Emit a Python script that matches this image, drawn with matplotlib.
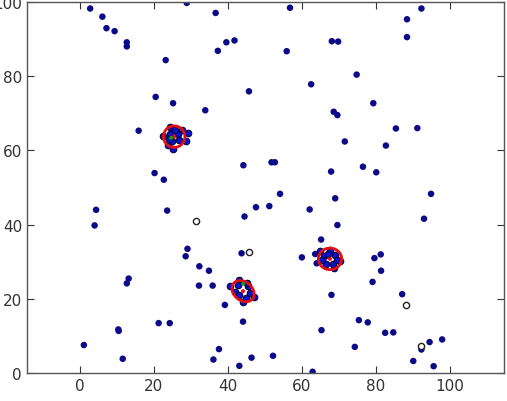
import numpy as np
import matplotlib
matplotlib.use("Agg")
import matplotlib.pyplot as plt
from matplotlib.patches import Ellipse

# ── Scattered background points ───────────────────────────
pts_x = [2.8, 6.1, 7.2, 9.4, 12.7, 12.7, 28.9, 36.7, 56.8, 92.3, 88.4, 88.4,
         39.6, 41.8, 37.3, 23.2, 55.9, 68.1, 69.8, 74.8, 62.5, 45.7, 20.5, 25.2,
         33.9, 79.3, 68.6, 69.6, 15.9, 85.4, 91.2, 71.6, 82.7, 44.2, 51.8, 52.7,
         76.5, 20.2, 67.9, 80.1, 22.7, 54.1, 94.9, 69.0, 47.6, 51.2, 4.4, 23.6,
         62.1, 44.5, 93.0, 4.0, 69.6, 65.2, 29.1, 43.7, 28.6, 60.0, 63.6, 64.0,
         79.6, 81.3, 32.3, 34.9, 81.4, 13.2, 12.7, 32.2, 35.9, 79.1, 87.1, 68.0,
         39.2, 21.3, 24.3, 44.1, 75.4, 77.8, 10.4, 10.5, 65.3, 82.5, 84.7, 1.1,
         74.3, 94.5, 97.9, 92.3, 37.6, 11.6, 36.1, 46.4, 52.2, 90.1, 43.1, 95.6,
         62.9]
pts_y = [98.2, 96.0, 92.9, 92.1, 89.1, 88.0, 99.7, 97.0, 98.4, 98.2, 95.3, 90.5,
         89.1, 89.6, 86.8, 84.3, 86.7, 89.4, 89.3, 80.4, 77.8, 75.9, 74.4, 72.7,
         70.8, 72.7, 70.4, 69.5, 65.3, 65.9, 66.0, 62.4, 61.3, 56.0, 56.8, 56.8,
         55.6, 53.9, 54.3, 54.1, 52.1, 48.3, 48.3, 47.1, 44.7, 45.0, 44.0, 43.8,
         44.1, 42.2, 41.6, 39.8, 39.9, 36.0, 33.5, 32.3, 31.5, 31.2, 32.1, 29.6,
         31.0, 32.0, 28.8, 27.6, 27.6, 25.5, 24.2, 23.6, 23.6, 24.6, 21.3, 21.1,
         18.4, 13.5, 13.5, 13.9, 14.3, 13.7, 11.8, 11.4, 11.6, 10.9, 11.0, 7.6,
         7.1, 8.4, 9.1, 6.4, 6.5, 3.9, 3.7, 4.2, 4.7, 3.3, 2.0, 1.9,
         0.4]

# ── Cluster members ───────────────────────────────────────
c1_x = [22.4, 24.5, 27.7, 29.1, 28.8, 25.3, 23.9, 24.5, 26.5, 25.0, 26.8, 25.8, 24.0]
c1_y = [63.9, 66.4, 65.5, 64.8, 62.6, 60.4, 61.4, 64.5, 64.5, 62.5, 62.8, 65.5, 63.0]
c2_x = [40.5, 43.1, 47.0, 44.1, 42.0, 45.5, 46.0, 43.0, 44.8, 42.8, 45.2]
c2_y = [23.4, 25.2, 20.5, 19.1, 22.0, 23.5, 21.5, 21.0, 20.2, 23.8, 24.2]
c3_x = [65.0, 67.6, 68.8, 70.3, 66.0, 69.0, 66.5, 68.5, 67.0, 69.5, 65.5]
c3_y = [32.9, 33.3, 28.3, 30.1, 31.5, 31.8, 29.5, 29.5, 32.0, 30.5, 30.5]

# cluster centres (red) and green markers
cent_x = [25.5, 44.1, 67.6]
cent_y = [63.7, 22.1, 30.8]
green_x = [24.7, 44.1]
green_y = [63.4, 24.1]

# hollow (unassigned) points
hol_x = [31.5, 45.6, 88.2, 92.2]
hol_y = [41.1, 32.6, 18.3, 7.4]

NAVY = "#0b0b8a"

fig = plt.figure(figsize=(5.07, 4.02), dpi=100)
ax = fig.add_axes([0.053, 0.069, 0.941, 0.924])

ax.scatter(pts_x, pts_y, s=22, c=NAVY, edgecolors="none", zorder=2)
for cx, cy in [(c1_x, c1_y), (c2_x, c2_y), (c3_x, c3_y)]:
    ax.scatter(cx, cy, s=22, c="#1010c8", edgecolors="#000040", linewidths=0.8, zorder=3)

# red rings round the clusters
rings = [(5.8, 5.8, 0), (6.6, 5.0, -40), (6.3, 5.8, 0)]
for (x, y), (w, h, ang) in zip(zip(cent_x, cent_y), rings):
    ax.add_patch(Ellipse((x, y), w, h * 1.0, angle=ang, fill=False,
                         edgecolor="#e01010", lw=2.0, zorder=4))

ax.scatter(cent_x, cent_y, s=8, c="red", edgecolors="none", zorder=5)
ax.scatter(green_x, green_y, s=8, c="#10a010", edgecolors="none", zorder=5)
ax.scatter(hol_x, hol_y, s=20, facecolors="white", edgecolors="#222222",
           linewidths=1.0, zorder=3)

ax.set_xlim(-14.3, 114.6)
ax.set_ylim(0, 100)
ax.set_xticks([0, 20, 40, 60, 80, 100])
ax.set_yticks([0, 20, 40, 60, 80, 100])
ax.tick_params(direction="in", top=True, right=True, labelsize=11,
               colors="#333333", length=5)
for sp in ax.spines.values():
    sp.set_color("#555555")
    sp.set_linewidth(1.0)

fig.savefig("out.png", dpi=100)
